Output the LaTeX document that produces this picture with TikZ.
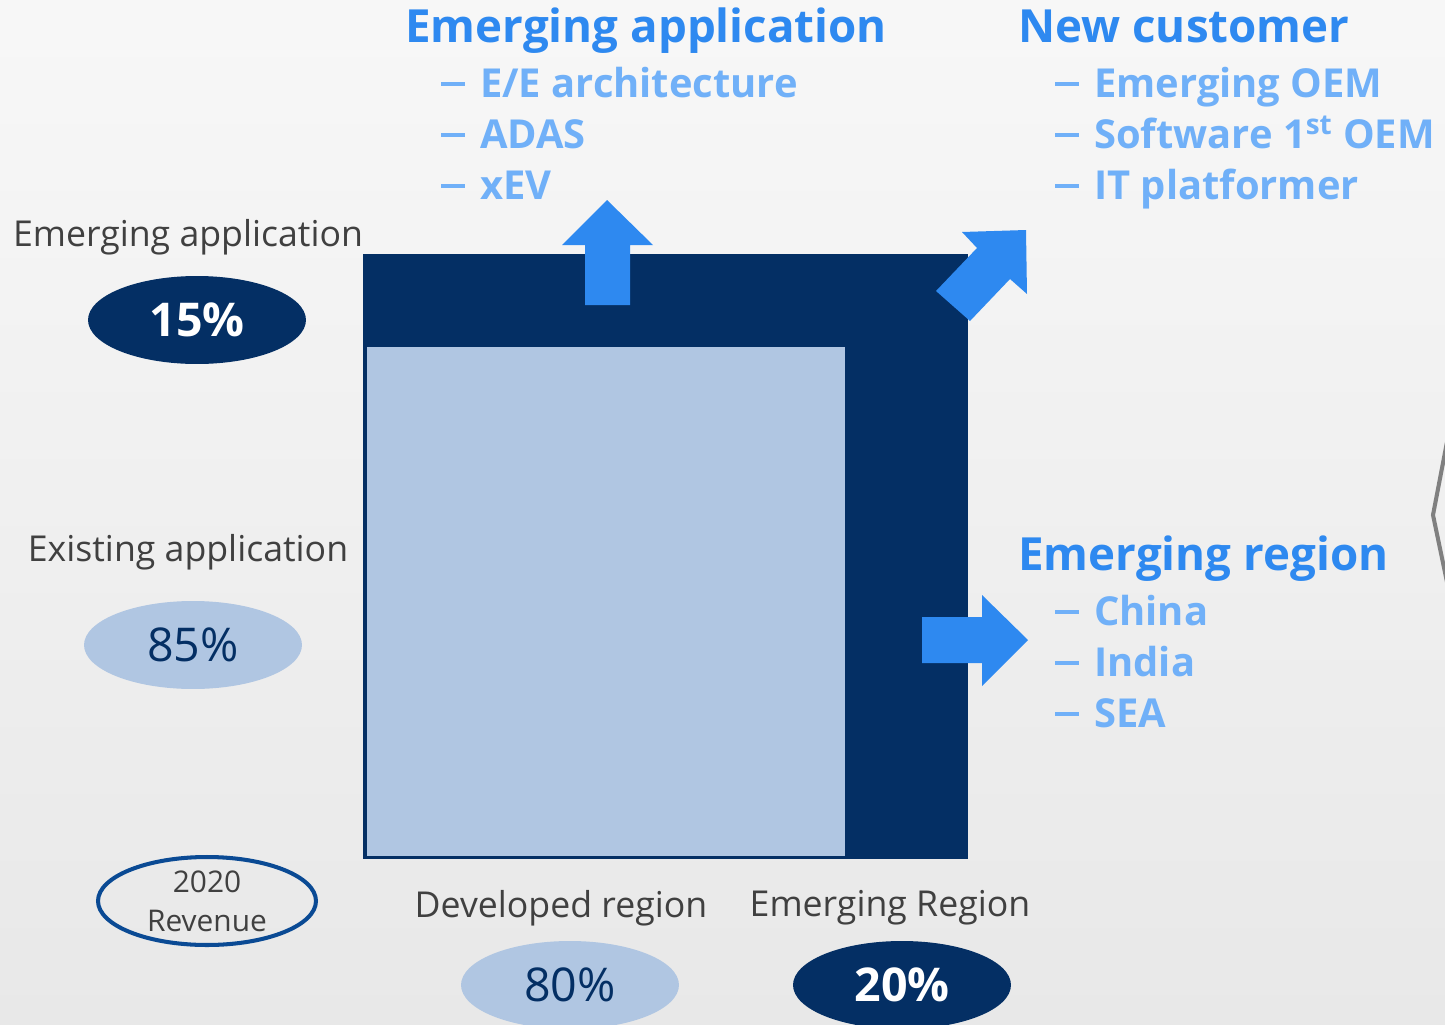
\documentclass[tikz,border=0pt]{standalone}
\usepackage{fontspec}
\setmainfont{Open Sans}
\definecolor{navy}{HTML}{042F64}
\definecolor{lightbox}{HTML}{B0C6E2}
\definecolor{arrowblue}{HTML}{2E89F0}
\definecolor{headblue}{HTML}{2E89F0}
\definecolor{subblue}{HTML}{70B0F8}
\definecolor{txtgrey}{HTML}{404040}
\definecolor{ringblue}{HTML}{0A4A94}
\definecolor{chev}{HTML}{808080}
\newcommand{\dashitem}{\makebox[22.1pt][l]{\rule[0.28em]{13.6pt}{2.1pt}}}
\tikzset{
  lbl/.style={text=txtgrey, font=\fontsize{20.3}{24}\selectfont, inner sep=0pt},
  head/.style={text=headblue, font=\bfseries\fontsize{26}{30}\selectfont, inner sep=0pt, anchor=base west},
  sub/.style={text=subblue, font=\bfseries\fontsize{22.7}{28}\selectfont, inner sep=0pt, anchor=base west},
  darkpill/.style={ellipse, fill=navy, text=white, font=\bfseries\fontsize{26.5}{30}\selectfont, minimum width=4.36cm, minimum height=1.76cm, inner sep=0pt},
  lightpill/.style={ellipse, fill=lightbox, text=navy, font=\fontsize{26.5}{30}\selectfont, minimum width=4.36cm, minimum height=1.76cm, inner sep=0pt},
  ring/.style={ellipse, draw=ringblue, line width=2.3pt, text=txtgrey, font=\fontsize{17}{22}\selectfont, align=center, minimum width=4.36cm, minimum height=1.76cm, inner sep=0pt},
  bigarrow/.style={fill=arrowblue, draw=none}
}
\usetikzlibrary{shapes.geometric}
\begin{document}
\begin{tikzpicture}[x=0.02cm, y=-0.02cm]
\shade[top color=white!97!black, bottom color=white!91!black] (0,0) rectangle (1445,1025);
\useasboundingbox (0,0) rectangle (1445,1025);
% grey chevron at right edge
\draw[chev, line width=2.3pt] (1447,442) -- (1433,515) -- (1447,582);
% main block
\fill[navy] (363,254) rectangle (968,859);
\fill[lightbox] (367,347) rectangle (845,856);
% arrows
\fill[bigarrow] (585,305) -- (585,245) -- (562,245) -- (607,200) -- (653,245) -- (630,245) -- (630,305) -- cycle;
\fill[bigarrow] (936,291) -- (977,248) -- (962,232) -- (1026,230) -- (1027,294) -- (1010,279) -- (970,321) -- cycle;
\fill[bigarrow] (922,617) -- (982,617) -- (982,595) -- (1028,640) -- (982,686) -- (982,663) -- (922,663) -- cycle;
% left labels & pills
\node[lbl] (lea) at (188,237) {Emerging application};
\node[darkpill] (p15) at (197,320) {15\%};
\node[lbl] (lxa) at (188,552) {Existing application};
\node[lightpill] (p85) at (193,645) {85\%};
\node[ring] (rev) at (207,901) {2020\\Revenue};
% bottom labels & pills
\node[lbl] (ldr) at (561,908) {Developed region};
\node[lbl] (ler) at (890,908) {Emerging Region};
\node[lightpill] (p80) at (570,985) {80\%};
\node[darkpill] (p20) at (902,985) {20\%};
% top headings
\node[head] (hea) at (405,42) {Emerging application};
\node[sub] (s1) at (441,97) {\dashitem E/E architecture};
\node[sub] (s2) at (441,148) {\dashitem ADAS};
\node[sub] (s3) at (441,199) {\dashitem xEV};
\node[head] (hnc) at (1018,42) {New customer};
\node[sub] (c1) at (1055,97) {\dashitem Emerging OEM};
\node[sub] (c2) at (1055,148) {\dashitem Software 1\textsuperscript{st} OEM};
\node[sub] (c3) at (1055,199) {\dashitem IT platformer};
\node[head] (her) at (1018,570) {Emerging region};
\node[sub] (r1) at (1055,625) {\dashitem China};
\node[sub] (r2) at (1055,676) {\dashitem India};
\node[sub] (r3) at (1055,727) {\dashitem SEA};
\end{tikzpicture}
\end{document}
